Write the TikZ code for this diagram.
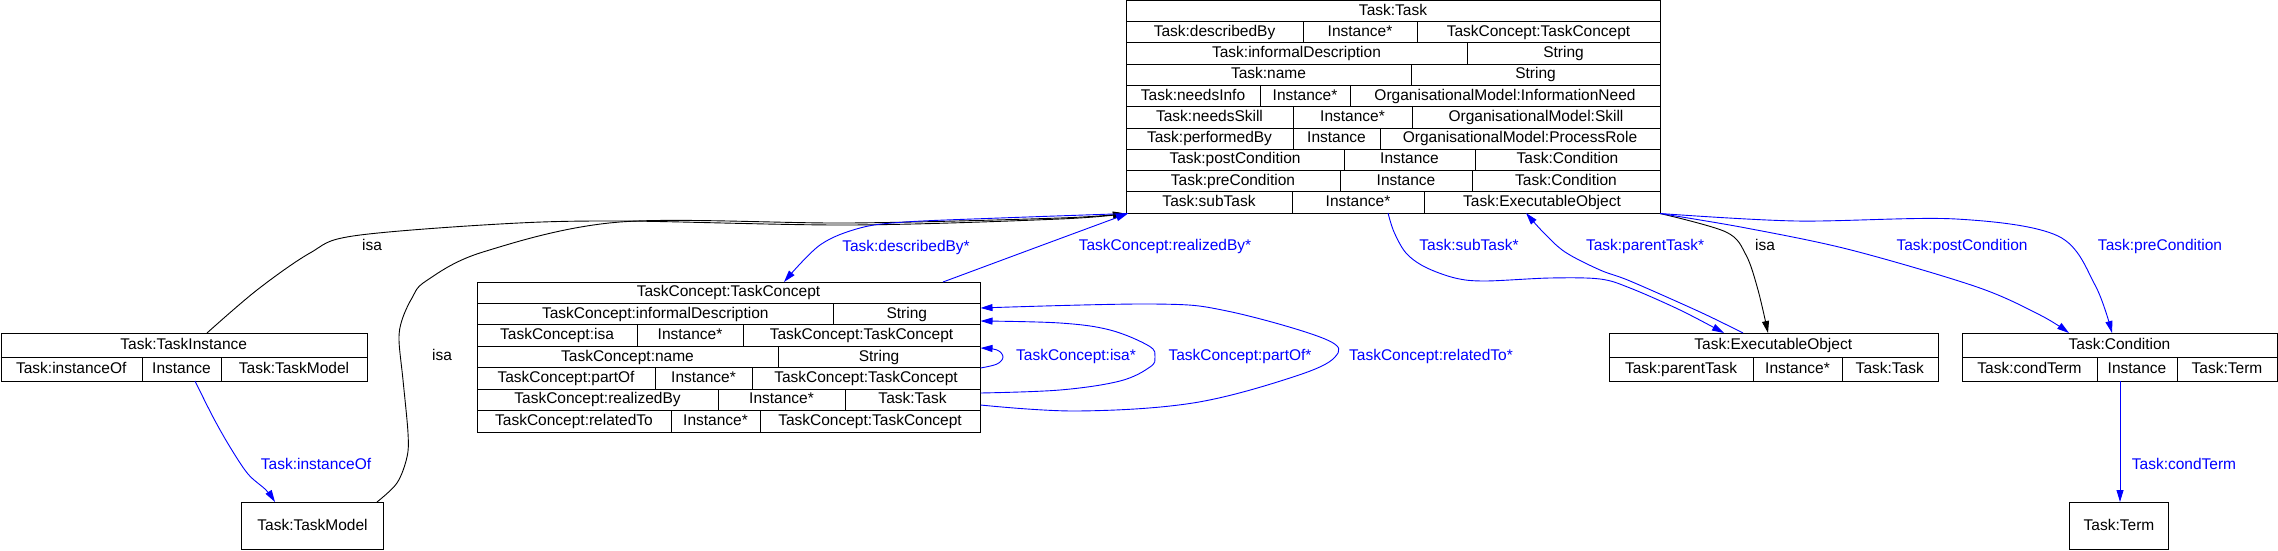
\documentclass[tikz,border=0pt]{standalone}
\usepackage{fontspec}
\setmainfont{Liberation Sans}
\usetikzlibrary{arrows.meta}
\tikzset{
  cell/.style={line width=1pt, black},
  txt/.style={font=\fontsize{15.5}{18}\selectfont, text height=11pt, text depth=3pt, inner sep=0pt},
  lbl/.style={txt, blue},
  blbl/.style={txt, black},
  rel/.style={blue, line width=0.9pt, -{Triangle[length=12pt,width=7pt]}},
  isaedge/.style={black, line width=0.9pt, -{Triangle[length=12pt,width=7pt]}},
  frame/.style={draw, line width=1pt, inner sep=0pt, anchor=north west},
}
\newcommand\hdrow[6]{\node[txt] (#1) at ({(#2+#3)/2},{(#4+#5)/2}) {#6};}
\newcommand\rowtwo[6]{%
  \draw[cell] (\tblL,#2) -- (\tblR,#2) (#4,#2) -- (#4,#3);
  \node[txt] (#1a) at ({(\tblL+#4)/2},{(#2+#3)/2}) {#5};
  \node[txt] (#1b) at ({(#4+\tblR)/2},{(#2+#3)/2}) {#6};}
\newcommand\rowthree[8]{%
  \draw[cell] (\tblL,#2) -- (\tblR,#2) (#4,#2) -- (#4,#3) (#5,#2) -- (#5,#3);
  \node[txt] (#1a) at ({(\tblL+#4)/2},{(#2+#3)/2}) {#6};
  \node[txt] (#1b) at ({(#4+#5)/2},{(#2+#3)/2}) {#7};
  \node[txt] (#1c) at ({(#5+\tblR)/2},{(#2+#3)/2}) {#8};}
\begin{document}
\begin{tikzpicture}[x=1pt,y=-1pt]
\useasboundingbox (0,0) rectangle (2278,551);

% ---------- Task:Task ----------
\def\tblL{1126}\def\tblR{1660}
\node[frame, minimum width=534pt, minimum height=212.5pt] (task) at (1126,0.5) {};
\hdrow{taskh}{1126}{1660}{0.5}{21.75}{Task:Task}
\rowthree{ta}{21.75}{43}{1303}{1417}{Task:describedBy}{Instance*}{TaskConcept:TaskConcept}
\rowtwo{tb}{43}{64.25}{1467}{Task:informalDescription}{String}
\rowtwo{tc}{64.25}{85.5}{1411}{Task:name}{String}
\rowthree{td}{85.5}{106.75}{1260}{1350}{Task:needsInfo}{Instance*}{OrganisationalModel:InformationNeed}
\rowthree{te}{106.75}{128}{1293}{1412}{Task:needsSkill}{Instance*}{OrganisationalModel:Skill}
\rowthree{tf}{128}{149.25}{1293}{1380}{Task:performedBy}{Instance}{OrganisationalModel:ProcessRole}
\rowthree{tg}{149.25}{170.5}{1344}{1475}{Task:postCondition}{Instance}{Task:Condition}
\rowthree{th}{170.5}{191.75}{1340}{1472}{Task:preCondition}{Instance}{Task:Condition}
\rowthree{ti}{191.75}{213}{1292}{1424}{Task:subTask}{Instance*}{Task:ExecutableObject}

% ---------- TaskConcept:TaskConcept ----------
\def\tblL{477}\def\tblR{980}
\node[frame, minimum width=503pt, minimum height=150.15pt] (tc) at (477,282) {};
\hdrow{tch}{477}{980}{282}{303.45}{TaskConcept:TaskConcept}
\rowtwo{ca}{303.45}{324.9}{833.6}{TaskConcept:informalDescription}{String}
\rowthree{cb}{324.9}{346.35}{637}{743}{TaskConcept:isa}{Instance*}{TaskConcept:TaskConcept}
\rowtwo{cc}{346.35}{367.8}{778}{TaskConcept:name}{String}
\rowthree{cd}{367.8}{389.25}{655}{752}{TaskConcept:partOf}{Instance*}{TaskConcept:TaskConcept}
\rowthree{ce}{389.25}{410.7}{718}{845}{TaskConcept:realizedBy}{Instance*}{Task:Task}
\rowthree{cf}{410.7}{432.15}{671}{760}{TaskConcept:relatedTo}{Instance*}{TaskConcept:TaskConcept}

% ---------- Task:TaskInstance ----------
\def\tblL{0.5}\def\tblR{367}
\node[frame, minimum width=366.5pt, minimum height=48pt] (tinst) at (0.5,333) {};
\hdrow{tinsth}{0.5}{367}{333}{357}{Task:TaskInstance}
\rowthree{ia}{357}{381}{142}{221}{Task:instanceOf}{Instance}{Task:TaskModel}

% ---------- Task:ExecutableObject ----------
\def\tblL{1609}\def\tblR{1937.5}
\node[frame, minimum width=328.5pt, minimum height=48pt] (exec) at (1609,333) {};
\hdrow{exech}{1609}{1937.5}{333}{357}{Task:ExecutableObject}
\rowthree{ea}{357}{381}{1753}{1842}{Task:parentTask}{Instance*}{Task:Task}

% ---------- Task:Condition ----------
\def\tblL{1962}\def\tblR{2277}
\node[frame, minimum width=315pt, minimum height=48pt] (cond) at (1962,333) {};
\hdrow{condh}{1962}{2277}{333}{357}{Task:Condition}
\rowthree{oa}{357}{381}{2097}{2177}{Task:condTerm}{Instance}{Task:Term}

% ---------- simple boxes ----------
\node[frame, minimum width=142pt, minimum height=47pt] (tmodel) at (241,502) {};
\node[txt] (tmodelt) at (tmodel.center) {Task:TaskModel};
\node[frame, minimum width=99pt, minimum height=47pt] (term) at (2069,502) {};
\node[txt] (termt) at (term.center) {Task:Term};

% ---------- edge end points ----------
\coordinate (tinstTop) at (207,333);
\coordinate (tmodelTop) at (377,502);
\coordinate (taskBL) at (1125,213.5);
\coordinate (taskBL2) at (1128,213.5);
\coordinate (tcTopA) at (784,282);
\coordinate (tcTopB) at (943,282);
\coordinate (taskSub) at (1388,213);
\coordinate (taskPar) at (1526,213);
\coordinate (taskBR) at (1660,213.5);
\coordinate (execSub) at (1724,333);
\coordinate (execPar) at (1743,333);
\coordinate (execIsa) at (1768,333);
\coordinate (condPost) at (2069,333);
\coordinate (condPre) at (2112,333);
\coordinate (condBot) at (2120,381);
\coordinate (termTop) at (2120,502);
\coordinate (tinstBot) at (195,381);
\coordinate (tmodelTopB) at (275,502);
\coordinate (tcR1) at (980.5,368);
\coordinate (tcR2) at (980.5,348);
\coordinate (tcR3) at (980.5,393);
\coordinate (tcR4) at (980.5,321);
\coordinate (tcR5) at (980.5,405);
\coordinate (tcR6) at (980.5,308);

% ---------- isa edges (black) ----------
\draw[isaedge] plot[smooth, tension=0.55] coordinates {(tinstTop) (257,290) (310,253) (353,236) (500,224) (620,221) (850,225) (1060,219) (taskBL)};
\draw[isaedge] plot[smooth, tension=0.55] coordinates {(tmodelTop) (397,483) (407,457) (408,433) (403,380) (399,340) (402,320) (412,298) (426,281) (483,252) (620,222) (850,223) (1060,218) (taskBL)};
\draw[isaedge] plot[smooth, tension=0.55] coordinates {(taskBR) (1726,232) (1746,255) (1758,290) (1768,333)};

% ---------- relation edges (blue) ----------
\draw[rel] plot[smooth, tension=0.55] coordinates {(taskBL2) (1000,218) (905,222) (860,228) (820,245) (tcTopA)};
\draw[rel] plot[smooth, tension=0.55] coordinates {(tcTopB) (1040,246) (taskBL2)};
\draw[rel] plot[smooth, tension=0.55] coordinates {(taskSub) (1394,232) (1406,253) (1425,267) (1455,278) (1485,281) (1550,278) (1600,279) (1630,288) (1680,310) (execSub)};
\draw[rel] plot[smooth, tension=0.55] coordinates {(execPar) (1700,312) (1630,281) (1600,270) (1565,252) (1543,232) (taskPar)};
\draw[rel] plot[smooth, tension=0.55] coordinates {(taskBR) (1746,228) (1851,250) (1977,287) (2040,315) (condPost)};
\draw[rel] plot[smooth, tension=0.55] coordinates {(taskBR) (1796,221) (1956,219) (2058,236) (2095,285) (condPre)};
\draw[rel] (condBot) -- (termTop);
\draw[rel] plot[smooth, tension=0.55] coordinates {(tinstBot) (213,417) (230,447) (248,474) (266,490) (tmodelTopB)};

% ---------- self loops on TaskConcept ----------
\draw[rel] plot[smooth, tension=0.6] coordinates {(tcR1) (997,364) (1003,357) (997,350) (tcR2)};
\draw[rel] plot[smooth, tension=0.6] coordinates {(tcR3) (1060,390) (1120,381) (1150,367) (1155,357) (1149,346) (1110,330) (1060,323) (tcR4)};
\draw[rel] plot[smooth, tension=0.6] coordinates {(tcR5) (1077,411) (1193,403) (1293,377) (1335,357) (1325,339) (1227,311) (1153,304) (tcR6)};

% ---------- labels ----------
\node[blbl] (l1) at (372,246) {isa};
\node[blbl] (l2) at (442,356) {isa};
\node[blbl] (l3) at (1765,246) {isa};
\node[lbl] (l4) at (316,465) {Task:instanceOf};
\node[lbl] (l5) at (906,247) {Task:describedBy*};
\node[lbl] (l6) at (1165,246) {TaskConcept:realizedBy*};
\node[lbl] (l7) at (1076,356) {TaskConcept:isa*};
\node[lbl] (l8) at (1240,356) {TaskConcept:partOf*};
\node[lbl] (l9) at (1431,356) {TaskConcept:relatedTo*};
\node[lbl] (l10) at (1469,246) {Task:subTask*};
\node[lbl] (l11) at (1645,246) {Task:parentTask*};
\node[lbl] (l12) at (1962,246) {Task:postCondition};
\node[lbl] (l13) at (2160,246) {Task:preCondition};
\node[lbl] (l14) at (2184,465) {Task:condTerm};
\end{tikzpicture}
\end{document}
